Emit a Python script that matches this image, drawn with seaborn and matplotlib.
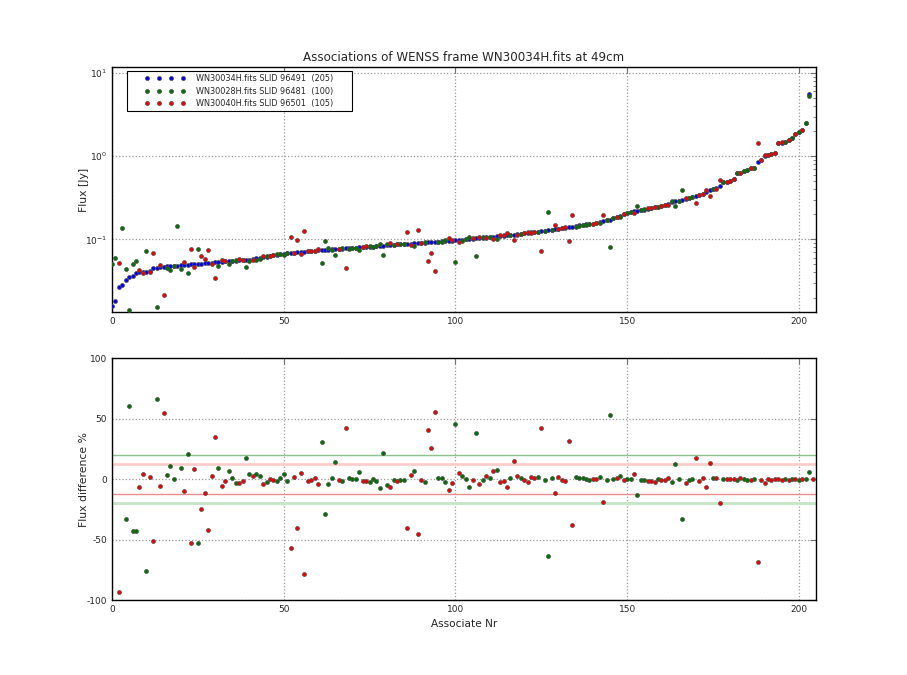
import numpy as np
import pandas as pd
import matplotlib
matplotlib.use("Agg")
import matplotlib.pyplot as plt
import seaborn as sns
from matplotlib.lines import Line2D
from matplotlib.legend_handler import HandlerLine2D

# ---------------- data ----------------
ref_flux = [
    0.0158, 0.0183, 0.0270, 0.0285, 0.0328, 0.0354, 0.0358, 0.0390, 0.0405, 0.0408,
    0.0410, 0.0412, 0.0455, 0.0458, 0.0465, 0.0468, 0.0472, 0.0476, 0.0480, 0.0484,
    0.0488, 0.0492, 0.0496, 0.0500, 0.0503, 0.0507, 0.0512, 0.0517, 0.0520, 0.0523,
    0.0528, 0.0534, 0.0540, 0.0545, 0.0548, 0.0552, 0.0556, 0.0560, 0.0562, 0.0566,
    0.0572, 0.0580, 0.0590, 0.0600, 0.0610, 0.0622, 0.0634, 0.0645, 0.0656, 0.0666,
    0.0675, 0.0682, 0.0690, 0.0695, 0.0700, 0.0705, 0.0712, 0.0718, 0.0725, 0.0732,
    0.0738, 0.0744, 0.0750, 0.0755, 0.0760, 0.0765, 0.0770, 0.0775, 0.0780, 0.0785,
    0.0790, 0.0795, 0.0800, 0.0805, 0.0810, 0.0815, 0.0820, 0.0826, 0.0832, 0.0840,
    0.0848, 0.0855, 0.0862, 0.0868, 0.0874, 0.0880, 0.0886, 0.0890, 0.0895, 0.0900,
    0.0905, 0.0912, 0.0920, 0.0928, 0.0935, 0.0940, 0.0946, 0.0952, 0.0958, 0.0965,
    0.0972, 0.0980, 0.0990, 0.1000, 0.1010, 0.1020, 0.1030, 0.1040, 0.1050, 0.1060,
    0.1070, 0.1080, 0.1090, 0.1100, 0.1110, 0.1120, 0.1130, 0.1142, 0.1155, 0.1168,
    0.1180, 0.1195, 0.1210, 0.1225, 0.1240, 0.1255, 0.1270, 0.1290, 0.1310, 0.1330,
    0.1345, 0.1360, 0.1380, 0.1400, 0.1420, 0.1440, 0.1470, 0.1490, 0.1510, 0.1530,
    0.1550, 0.1570, 0.1600, 0.1650, 0.1700, 0.1730, 0.1790, 0.1860, 0.1920, 0.2000,
    0.2060, 0.2120, 0.2170, 0.2220, 0.2250, 0.2280, 0.2320, 0.2360, 0.2420, 0.2480,
    0.2520, 0.2580, 0.2650, 0.2800, 0.2870, 0.2920, 0.2950, 0.3050, 0.3150, 0.3230,
    0.3280, 0.3390, 0.3550, 0.3730, 0.3880, 0.4050, 0.4120, 0.4370, 0.4900, 0.4950,
    0.5000, 0.5250, 0.6250, 0.6300, 0.6650, 0.6800, 0.7200, 0.7300, 0.8550, 0.8950,
    1.0100, 1.0200, 1.0500, 1.1000, 1.4400, 1.4600, 1.5000, 1.5600, 1.6600, 1.8400,
    1.9600, 2.0500, 2.5100, 5.6600, 13.000,
]

# which frame the association was matched in (G = WN30028H, R = WN30040H)
match_frame = (
    "GGRGGGGGRR" "GRRGRRGGGG" "GRGRRGRRRR" "RGRRGGGRRG" "GRGGRGRRGG"
    "GGRRRRRRRR" "RGGGGGRGRG" "GGGRRGGGGG" "GRGRGGRRGR" "RGRRRGGGRR"
    "GRGGGRGRGR" "GRGRRRGRRG" "RRRRGRGGGR" "RRRRRGGGGG" "RRGRGGGRGR"
    "GGRGGGRRRG" "RRRGGGGRGG" "RRRRRGRRGR" "RRGRGGRGRR" "RRRRRRGRGR"
    "GRGGR"
)

# flux difference in percent: (ref - match) / ref * 100
diff_pct = [
    -216, -228, -93, -381, -33, 60, -42.7, -42.7, -6.3, 4.4,
    -75.8, 1.9, -51, 66.4, -5.5, 54.8, 3.6, 11, 0, -202,
    9.3, -9.6, 21, -52.6, 8.5, -52.6, -24.5, -11.3, -41.9, 2.8,
    35, 9.3, -5.5, -1.4, 6.9, 1.1, -3, -3, -1.4, 17.6,
    4.4, 2.8, 4.4, 2.8, -3.9, -2.2, 0.3, -0.5, -1.4, 1.1,
    4.4, -1.4, -56.7, 1.9, -40.2, 5.2, -78.2, -1.4, -0.5, 1.1,
    -3.8, 30.9, -28.7, -3.8, 1.1, 14.3, -0.5, -1.4, 42.4, 1.1,
    0.3, 0.3, 6, -1.4, -1.4, -2.2, 0.3, -1.4, -7.2, 21.8,
    -4.7, -6.3, -0.5, -1.4, -0.5, -0.5, -40.2, 3.6, 6.9, -45.2,
    -0.5, -2.2, 40.5, 25.9, 55.6, 1.1, 1.1, -2.2, -8.8, -3,
    45.7, 5.2, 2.8, 0.3, -6.3, -0.5, 38.3, -3.8, -0.5, 2.8,
    1.1, 6.9, 7.7, -2.2, -1.4, -6.3, 1.1, 15.1, 2.8, 1.1,
    -0.5, -2.2, 1.9, 1.1, 1.9, 42.4, -0.5, -63.4, 1.1, -11.3,
    1.9, -0.5, -1.4, 31.7, -37.7, 1.9, 1.1, 1.1, 0.3, -0.5,
    0.3, 0.3, 1.9, -18.7, -0.5, 52.9, 0.3, 1.1, 2.8, -0.5,
    0.3, 0.3, 4.4, -13, -0.5, -0.5, -1.4, -1.4, -2.2, 0,
    -0.5, -0.5, 1, -2.2, 12.6, 0, -33, -3, -0.5, 0,
    17.6, -1.4, 1.1, -6.3, 13.5, 1, 1, -19.6, 0, 0,
    0, 0, -0.5, 1.1, 0, -0.5, -0.5, 0, -68.3, -0.5,
    -3, 0, -0.5, 0, 0, -0.5, 0, -0.5, 0, 0,
    -0.5, 0, 0, 6, 0,
]

labels = {
    "B": "WN30034H.fits SLID 96491  (205)",
    "G": "WN30028H.fits SLID 96481  (100)",
    "R": "WN30040H.fits SLID 96501  (105)",
}
band_levels = [20, 12, -12, -20]
title = "Associations of WENSS frame WN30034H.fits at 49cm"

# ---------------- tables ----------------
nr = np.arange(len(ref_flux))
ref_df = pd.DataFrame({"nr": nr, "flux": ref_flux})
m_df = pd.DataFrame({
    "nr": nr,
    "frame": list(match_frame),
    "diff": diff_pct,
})
m_df["flux"] = ref_df["flux"] * (1 - m_df["diff"] / 100.0)

col = {"B": "#0000ee", "G": "#007000", "R": "#ee0000"}

# ---------------- style ----------------
sns.set_style("white")
plt.rcParams["font.family"] = ["DejaVu Sans"]
plt.rcParams["axes.linewidth"] = 1.0
plt.rcParams["axes.unicode_minus"] = False

fig = plt.figure(figsize=(9.07, 6.75), dpi=100, facecolor="white")
ax1 = fig.add_axes([0.1235, 0.5378, 0.7762, 0.3629])
ax2 = fig.add_axes([0.1235, 0.1111, 0.7762, 0.3585])

pt_kw = dict(s=8, edgecolor="0.3", linewidth=0.5, legend=False)

# top panel
sns.scatterplot(data=ref_df, x="nr", y="flux", color=col["B"], ax=ax1, zorder=3, **pt_kw)
for f in ["G", "R"]:
    sub = m_df[m_df["frame"] == f]
    sns.scatterplot(data=sub, x="nr", y="flux", color=col[f], ax=ax1, zorder=4, **pt_kw)
ax1.set_yscale("log")
ax1.set_ylim(0.0134, 11.8)

# bottom panel
ax2.axhline(band_levels[0], color=(0.55, 0.76, 0.55), lw=1.0, zorder=1)
ax2.axhline(band_levels[1], color=(1.0, 0.80, 0.80), lw=2.0, zorder=1)
ax2.axhline(band_levels[2], color=(0.92, 0.55, 0.55), lw=1.0, zorder=1)
ax2.axhline(band_levels[3], color=(0.78, 0.90, 0.78), lw=2.2, zorder=1)
for f in ["G", "R"]:
    sub = m_df[m_df["frame"] == f]
    sns.scatterplot(data=sub, x="nr", y="diff", color=col[f], ax=ax2, zorder=4, **pt_kw)
ax2.set_ylim(-100, 100)
ax2.set_yticks([-100, -50, 0, 50, 100])

for ax in (ax1, ax2):
    ax.set_xlim(0, 205)
    ax.set_xticks([0, 50, 100, 150, 200])
    ax.grid(True, which="major", linestyle=":", color="0.6", linewidth=0.9)
    ax.tick_params(which="both", direction="in", top=True, right=True,
                   labelsize=6.5, color="0.45")
    ax.tick_params(which="major", length=4)
    ax.tick_params(which="minor", length=2)
    for s in ax.spines.values():
        s.set_color("black")
        s.set_linewidth(1.0)

ax1.set_xlabel("")
ax1.set_ylabel("Flux [Jy]", fontsize=7.8)
ax1.yaxis.set_label_coords(-23 / 704, 0.5)
ax1.set_title(title, fontsize=8.6, pad=4)
ax2.set_ylabel("Flux difference %", fontsize=7.8)
ax2.yaxis.set_label_coords(-23 / 704, 0.5)
ax2.set_xlabel("Associate Nr", fontsize=7.6, labelpad=4)


class PaddedHandler(HandlerLine2D):
    """Points spread over the handle with separate left/right insets."""
    def get_xdata(self, legend, xdescent, ydescent, width, height, fontsize):
        n = self.get_numpoints(legend)
        xs = np.linspace(-xdescent + 2.0 * fontsize, -xdescent + width - 1.2 * fontsize, n)
        return xs, xs


handles = [Line2D([], [], linestyle="none", marker="o", markersize=2.9,
                  markerfacecolor=col[k], markeredgecolor="0.3", markeredgewidth=0.5)
           for k in ["B", "G", "R"]]
leg = ax1.legend(handles, [labels[k] for k in ["B", "G", "R"]],
                 loc="upper left", bbox_to_anchor=(15 / 704, 0, 225 / 704, 1 - 4 / 245),
                 mode="expand", borderaxespad=0, numpoints=4, handlelength=7.6,
                 fontsize=5.9, frameon=True, fancybox=False, framealpha=1,
                 edgecolor="black", borderpad=0.4, labelspacing=0.4, handletextpad=0.4,
                 handler_map={Line2D: PaddedHandler()})
leg.get_frame().set_linewidth(0.8)

fig.savefig("out.png", dpi=100, facecolor="white")
